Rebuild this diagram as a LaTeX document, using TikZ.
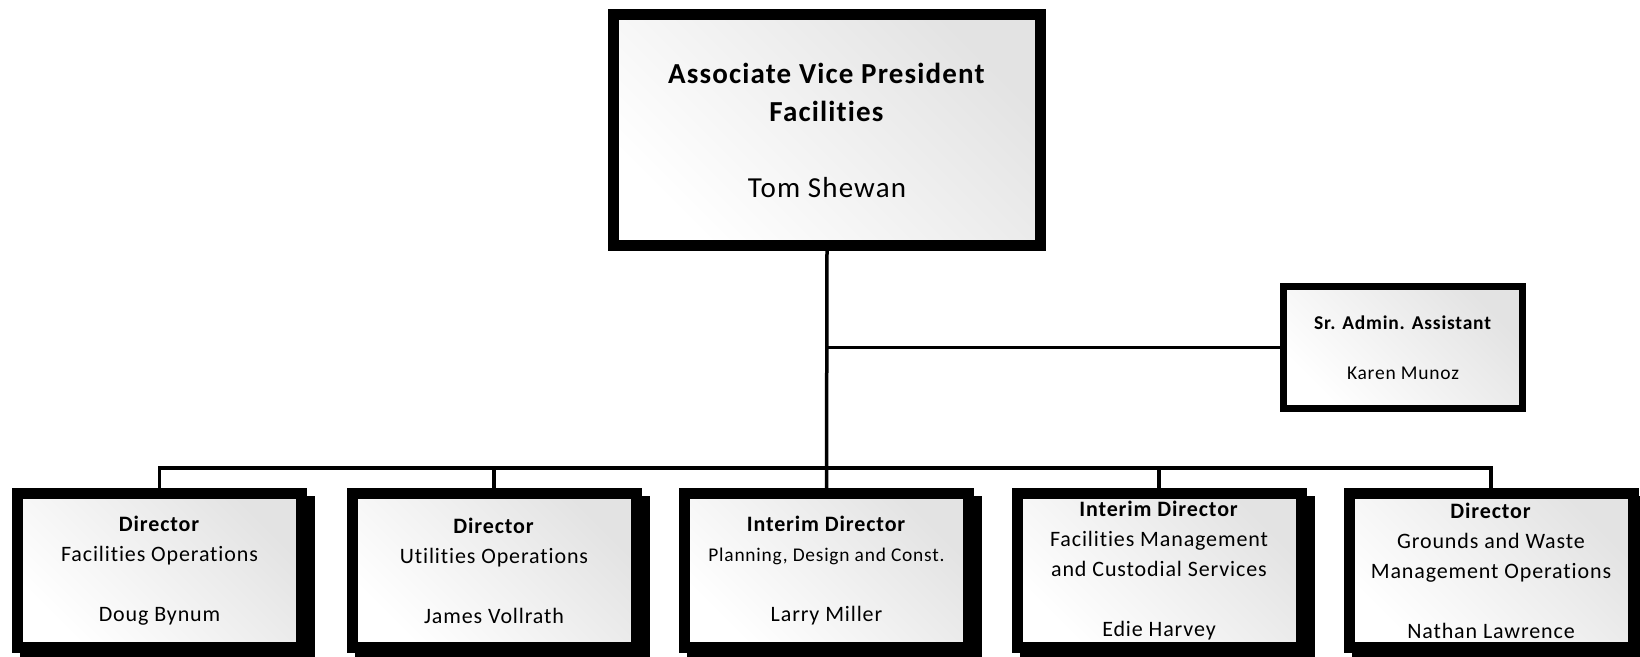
\documentclass[tikz,border=0pt]{standalone}
\usepackage{fontspec}
\setmainfont{Carlito}[LetterSpace=4, Ligatures=NoCommon]
\usetikzlibrary{shadows}

\begin{document}
\begin{tikzpicture}[x=0.5pt, y=-0.5pt,
    card/.style={draw, line width=5.5pt, top color=black!11, bottom color=white, shading angle=-45,
        align=center, inner sep=0pt, minimum width=142pt, minimum height=77pt,
        font=\fontsize{11}{15}\selectfont},
    stackcard/.style={card, general shadow={fill=black, draw=black, line width=5.5pt,
        shadow xshift=4pt, shadow yshift=-4pt}},
    link/.style={line width=1.75pt}]
    \useasboundingbox (0,0) rectangle (1640,657);
    \clip (0,0) rectangle (1640,657);
    % head of the unit
    \node[card, minimum width=213.5pt, minimum height=115.5pt, font=\fontsize{14.5}{19}\selectfont] (avp) at (827,130)
        {\textbf{Associate Vice President}\\\textbf{Facilities}\\[19pt]Tom Shewan};
    \node[card, line width=3.5pt, minimum width=119.5pt, minimum height=61pt, font=\fontsize{9.75}{12}\selectfont] (sra) at (1403,347.5)
        {\textbf{Sr. Admin. Assistant}\\[13pt]Karen Munoz};
    % directors
    \node[stackcard] (fo) at (159.5,570.5) {\textbf{Director}\\Facilities Operations\\[15pt]Doug Bynum};
    \node[stackcard] (uo) at (494,570.5) {\textbf{Director}\\Utilities Operations\\[15pt]James Vollrath};
    \node[stackcard] (pdc) at (826.5,570.5) {\textbf{Interim Director}\\{\fontsize{9.7}{15}\selectfont Planning, Design and Const.}\\[15pt]Larry Miller};
    \node[stackcard] (fm) at (1159,570.5) {\textbf{Interim Director}\\Facilities Management\\and Custodial Services\\[15pt]Edie Harvey};
    \node[stackcard] (gw) at (1491,570.5) {\textbf{Director}\\Grounds and Waste\\Management Operations\\[15pt]Nathan Lawrence};
    \coordinate (bus) at (827,468);
    % lines
    \draw[link] (avp.south) -- (pdc.north);
    \draw[link] (avp.south |- sra.west) -- (sra.west);
    \draw[link] (fo.north) |- (bus) -| (gw.north);
    \draw[link] (uo.north) -- (uo.north |- bus);
    \draw[link] (fm.north) -- (fm.north |- bus);
\end{tikzpicture}
\end{document}
